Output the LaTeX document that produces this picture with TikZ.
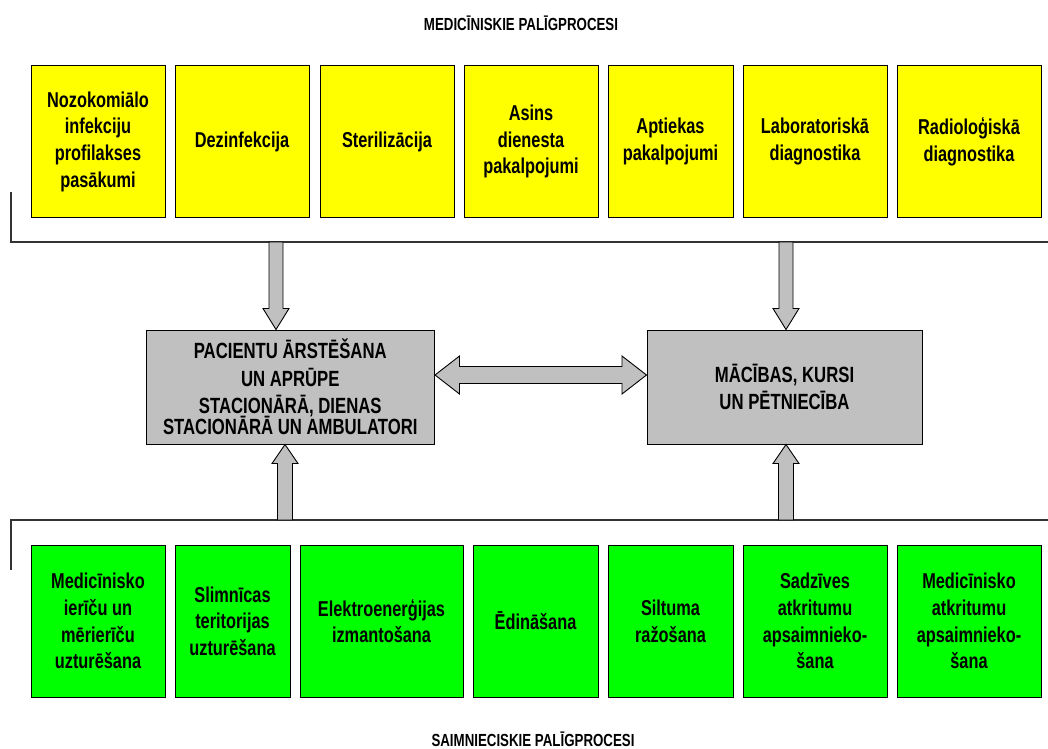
\documentclass[tikz,border=0pt]{standalone}
\usepackage{fontspec}
\setmainfont{Liberation Sans}[FakeStretch=0.76]
\usetikzlibrary{calc}
\definecolor{yel}{HTML}{FFFF00}
\definecolor{grn}{HTML}{00FF00}
\definecolor{gry}{HTML}{C0C0C0}
\tikzset{
  box/.style={draw=black, line width=1pt, align=center, inner sep=0pt,
    font=\bfseries\fontsize{21.5}{26.7}\selectfont, anchor=center},
  ybox/.style={box, fill=yel},
  gbox/.style={box, fill=grn},
  cbox/.style={box, fill=gry, font=\bfseries\fontsize{22}{24}\selectfont},
  barrow/.style={draw=black, fill=gry, line width=0.9pt, line join=miter},
  bracket/.style={draw=black!80, line width=1.1pt},
  ttl/.style={font=\bfseries\fontsize{17.5}{18}\selectfont, inner sep=0pt}
}
\newcommand{\mkbox}[7]{% style, name, x1, x2, y1, y2, text
  \node[#1, minimum width={#4-#3}, minimum height={#6-#5}] (#2) at ({(#3+#4)/2},{(#5+#6)/2}) {#7};}
\newcommand{\blockdown}[2]{% #1 start on bar, #2 tip
  \draw[barrow] ($(#1)+(-7,0)$) -- ($(#1)+(7,0)$) -- ($(#2)+(7,-21)$) -- ($(#2)+(13,-21)$)
    -- (#2) -- ($(#2)+(-13,-21)$) -- ($(#2)+(-7,-21)$) -- cycle;}
\newcommand{\blockup}[2]{% #1 start on bar, #2 tip
  \draw[barrow] ($(#1)+(-7.5,0)$) -- ($(#1)+(7.5,0)$) -- ($(#2)+(7.5,19)$) -- ($(#2)+(13,19)$)
    -- (#2) -- ($(#2)+(-13,19)$) -- ($(#2)+(-7.5,19)$) -- cycle;}
\begin{document}
\begin{tikzpicture}[x=1pt,y=-1pt]
\useasboundingbox (0,0) rectangle (1048,748);
% titles
\node[ttl] (ttop) at (521,23) {MEDICĪNISKIE PALĪGPROCESI};
\node[ttl] (tbot) at (533,739) {SAIMNIECISKIE PALĪGPROCESI};
% yellow boxes
\mkbox{ybox}{y1}{31}{165}{65.5}{217.5}{Nozokomiālo\\infekciju\\profilakses\\pasākumi}
\mkbox{ybox}{y2}{175}{309}{65.5}{217.5}{Dezinfekcija}
\mkbox{ybox}{y3}{320}{454}{65.5}{217.5}{Sterilizācija}
\mkbox{ybox}{y4}{464}{598}{65.5}{217.5}{Asins\\dienesta\\pakalpojumi}
\mkbox{ybox}{y5}{608}{733}{65.5}{217.5}{Aptiekas\\pakalpojumi}
\mkbox{ybox}{y6}{743}{887}{65.5}{217.5}{Laboratoriskā\\diagnostika}
\mkbox{ybox}{y7}{897}{1041}{65.5}{217.5}{Radioloģiskā\\diagnostika}
% green boxes
\mkbox{gbox}{g1}{31}{165}{545}{697}{Medicīnisko\\ierīču un\\mērierīču\\uzturēšana}
\mkbox{gbox}{g2}{175}{290}{545}{697}{Slimnīcas\\teritorijas\\uzturēšana}
\mkbox{gbox}{g3}{300}{463}{545}{697}{Elektroenerģijas\\izmantošana}
\mkbox{gbox}{g4}{473}{598}{545}{697}{Ēdināšana}
\mkbox{gbox}{g5}{608}{733}{545}{697}{Siltuma\\ražošana}
\mkbox{gbox}{g6}{743}{887}{545}{697}{Sadzīves\\atkritumu\\apsaimnieko-\\šana}
\mkbox{gbox}{g7}{897}{1041}{545}{697}{Medicīnisko\\atkritumu\\apsaimnieko-\\šana}
% central boxes
\mkbox{cbox}{pac}{146}{434.5}{330}{444}{PACIENTU ĀRSTĒŠANA\\[4pt]UN APRŪPE\\[3pt]STACIONĀRĀ, DIENAS\\[-3pt]STACIONĀRĀ UN AMBULATORI}
\mkbox{cbox}{mac}{647}{922}{330}{444}{MĀCĪBAS, KURSI\\[3pt]UN PĒTNIECĪBA}
% brackets
\coordinate (tb0) at (11,192);
\coordinate (tb1) at (11,242);
\coordinate (tb2) at (1048,242);
\draw[bracket] (tb0) -- (tb1) -- (tb2);
\coordinate (bb0) at (11,570);
\coordinate (bb1) at (11,520);
\coordinate (bb2) at (1048,520);
\draw[bracket] (bb0) -- (bb1) -- (bb2);
% vertical block arrows
\coordinate (a1s) at (276,242);
\coordinate (a1t) at (a1s |- pac.north);
\blockdown{a1s}{a1t}
\coordinate (a2s) at (786,242);
\coordinate (a2t) at (a2s |- mac.north);
\blockdown{a2s}{a2t}
\coordinate (a3s) at (285,520);
\coordinate (a3t) at (a3s |- pac.south);
\blockup{a3s}{a3t}
\coordinate (a4s) at (786,520);
\coordinate (a4t) at (a4s |- mac.south);
\blockup{a4s}{a4t}
% horizontal double arrow
\coordinate (hl) at (pac.east |- 0,375);
\coordinate (hr) at (mac.west |- 0,375);
\draw[barrow] (hl) -- ($(hl)+(24.5,-19)$) -- ($(hl)+(24.5,-8.5)$) -- ($(hr)+(-24.5,-8.5)$)
  -- ($(hr)+(-24.5,-19)$) -- (hr) -- ($(hr)+(-24.5,19)$) -- ($(hr)+(-24.5,8.5)$)
  -- ($(hl)+(24.5,8.5)$) -- ($(hl)+(24.5,19)$) -- cycle;
\end{tikzpicture}
\end{document}
